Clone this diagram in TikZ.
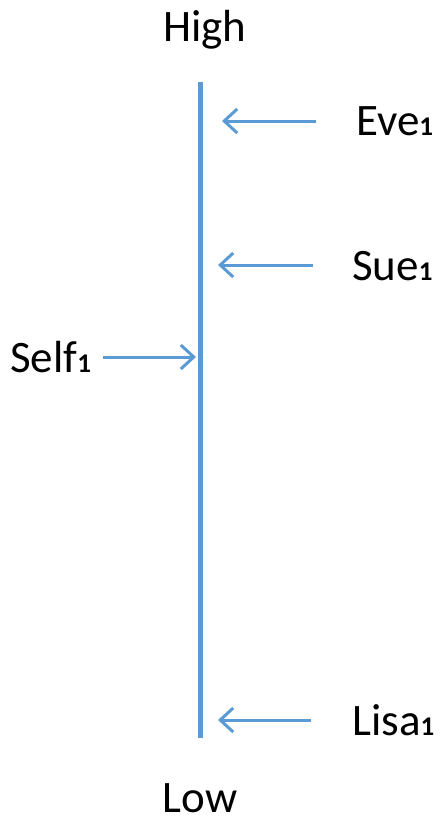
\documentclass[tikz,border=0pt]{standalone}
\usepackage{fontspec}
\setmainfont{Carlito}
\usetikzlibrary{arrows.meta}
\definecolor{axisblue}{HTML}{5B9BD5}
\newcommand{\subone}{{\fontsize{27}{30}\selectfont\bfseries 1}}
\tikzset{
  lbl/.style={inner sep=0pt, font=\fontsize{45}{54}\selectfont, text=black},
  axis/.style={draw=axisblue, line width=5pt},
  pointer/.style={draw=axisblue, line width=3pt, -{Straight Barb[length=13pt,width=24pt,line width=3pt]}}
}
\begin{document}
\begin{tikzpicture}[x=1pt,y=-1pt]
\useasboundingbox (0,0) rectangle (444,822);
\coordinate (top) at (200,82);
\coordinate (bot) at (200,738);
\draw[axis] (top) -- (bot);
\node[lbl, anchor=base] (high) at (205,41) {High};
\node[lbl, anchor=base] (low) at (200,812) {Low};
\node[lbl, anchor=base west] (eve) at (356,135) {Eve\subone};
\node[lbl, anchor=base west] (sue) at (352,280) {Sue\subone};
\node[lbl, anchor=base west] (lisa) at (352,735) {Lisa\subone};
\node[lbl, anchor=base west] (self) at (10,372) {Self\subone};
\coordinate (eveS) at (316,121);
\coordinate (eveE) at (222,121);
\coordinate (sueS) at (313,265);
\coordinate (sueE) at (218,265);
\coordinate (lisaS) at (311,720);
\coordinate (lisaE) at (218,720);
\coordinate (selfS) at (103,357);
\coordinate (selfE) at (196,357);
\draw[pointer] (eveS) -- (eveE);
\draw[pointer] (sueS) -- (sueE);
\draw[pointer] (lisaS) -- (lisaE);
\draw[pointer] (selfS) -- (selfE);
\end{tikzpicture}
\end{document}
